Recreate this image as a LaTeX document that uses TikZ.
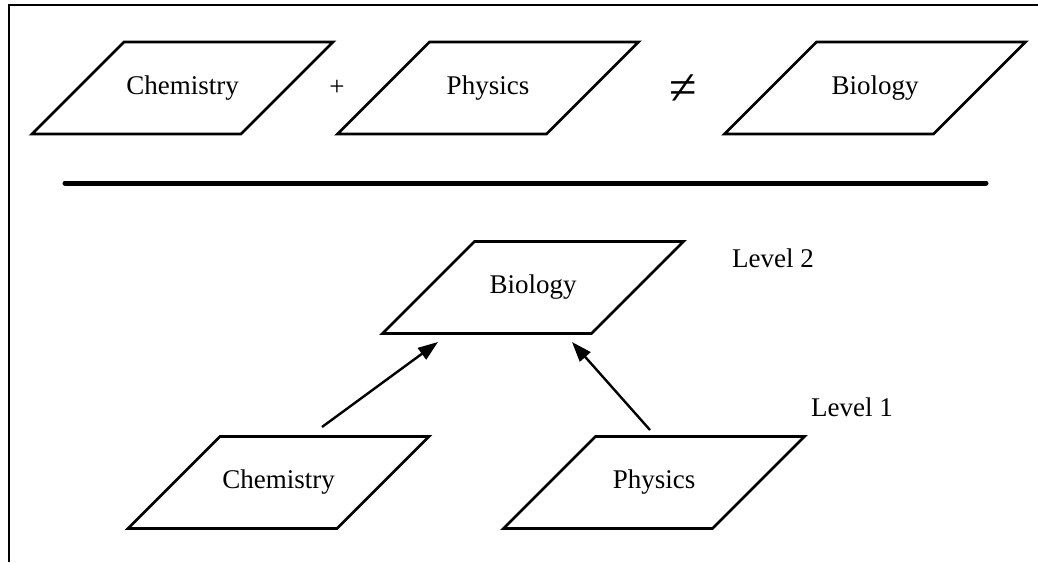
\documentclass[tikz,border=0pt]{standalone}
\usepackage{fontspec}
\setmainfont{Liberation Serif}
\usetikzlibrary{arrows.meta}
\newcommand\paranode[4]{%
  \node[lbl] (#1) at (#2,#3) {#4};
  \draw[pline] ([shift={(-150.5,46)}]#1.center) -- ([shift={(58.5,46)}]#1.center)
    -- ([shift={(150.5,-46)}]#1.center) -- ([shift={(-58.5,-46)}]#1.center) -- cycle;}
\begin{document}
\begin{tikzpicture}[x=1pt,y=-1pt,
  pline/.style={draw, line width=2.8pt, line join=miter},
  lbl/.style={inner sep=0pt, font=\fontsize{27}{30}\selectfont},
  arr/.style={line width=2.4pt, -{Triangle[length=20pt,width=14pt]}},
]
\useasboundingbox (0,0) rectangle (1038,562);
% frame
\draw[line width=2.2pt] (9,562) -- (9,5) -- (1038,5);
% top row
\paranode{chem1}{182.5}{88}{Chemistry}
\node[lbl] (plus) at (337,88) {+};
\paranode{phys1}{488}{88}{Physics}
\node[lbl, font=\fontsize{50}{50}\selectfont] (neq) at (683,90) {≠};
\paranode{bio1}{875}{88}{Biology}
% separator
\draw[line width=5pt, line cap=round] (65,183) -- (986,183);
% levels
\paranode{bio2}{533}{287.5}{Biology}
\paranode{chem2}{278.5}{482.5}{Chemistry}
\paranode{phys2}{654}{482.5}{Physics}
\node[lbl] (lev2) at (773,258) {Level 2};
\node[lbl] (lev1) at (852,407) {Level 1};
\draw[arr] ([shift={(43.5,-55.5)}]chem2.center) -- ([shift={(-95,54.5)}]bio2.center);
\draw[arr] ([shift={(-4,-52.5)}]phys2.center) -- ([shift={(39,54.5)}]bio2.center);
\end{tikzpicture}
\end{document}
